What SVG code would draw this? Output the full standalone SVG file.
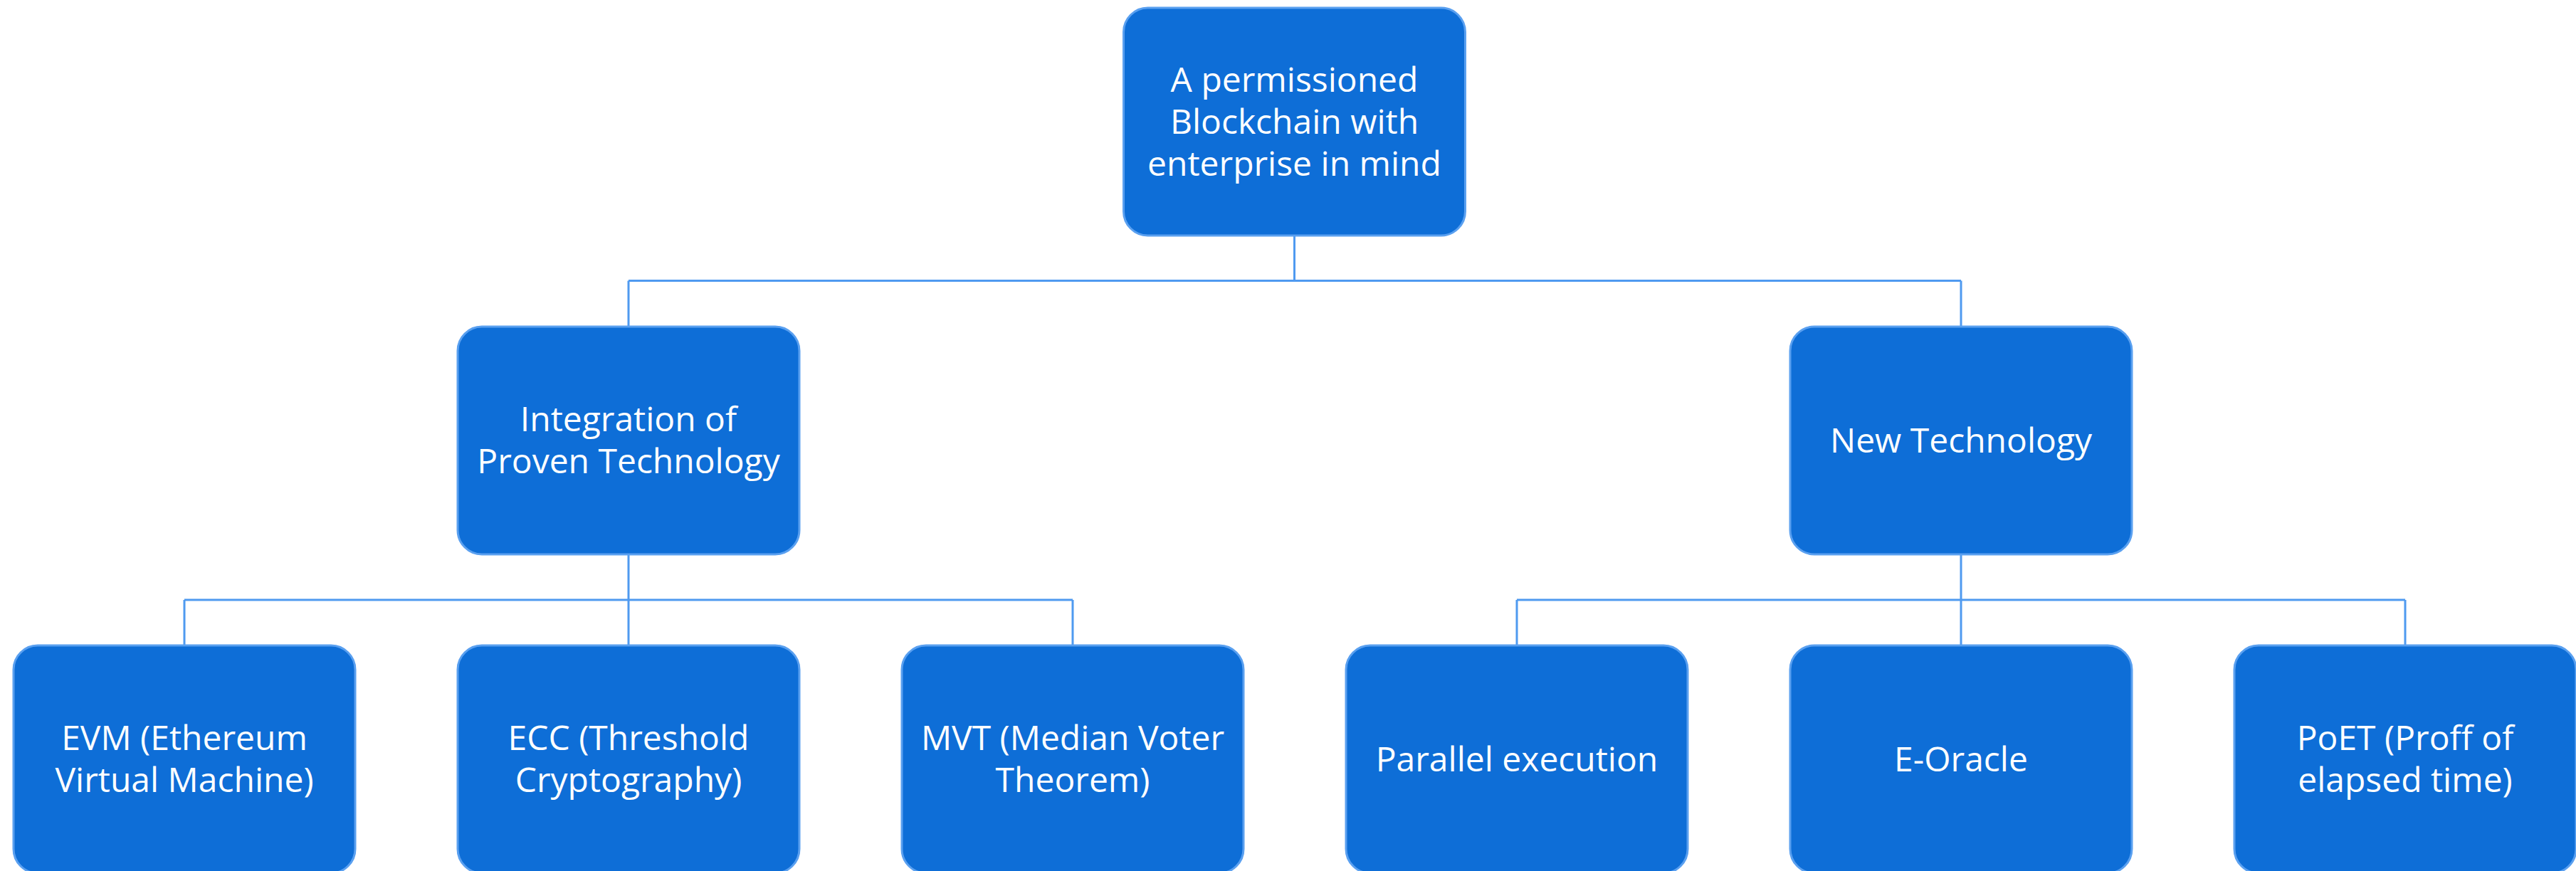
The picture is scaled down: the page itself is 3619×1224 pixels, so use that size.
<svg xmlns="http://www.w3.org/2000/svg" width="3619" height="1224" viewBox="0 0 3619 1224">
<style>
.box{fill:#0e6ed7;stroke:#5aa0f0;stroke-width:3}
.lbl{font-family:"Open Sans","Noto Sans","Liberation Sans",sans-serif;font-size:48px;fill:#ffffff;text-anchor:middle}
.conn{fill:none;stroke:#4f9af0;stroke-width:3}
</style>
<rect width="3619" height="1224" fill="#ffffff"/>
<g id="connectors">
<path class="conn" d="M1818.5 331 V394.5 M883 394.5 H2755 M883 394.5 V459 M2755 394.5 V459"/>
<path class="conn" d="M883 779 V843 M259 843 H1507 M259 843 V907 M883 843 V907 M1507 843 V907"/>
<path class="conn" d="M2755 779 V843 M2131 843 H3379 M2131 843 V907 M2755 843 V907 M3379 843 V907"/>
</g>
<g id="root">
<rect class="box" x="1578.5" y="11" width="480" height="320" rx="34"/>
<text class="lbl" x="1818.5" y="129">A permissioned</text>
<text class="lbl" x="1818.5" y="188">Blockchain with</text>
<text class="lbl" x="1818.5" y="247">enterprise in mind</text>
</g>
<g id="integration">
<rect class="box" x="643" y="459" width="480" height="320" rx="34"/>
<text class="lbl" x="883" y="606">Integration of</text>
<text class="lbl" x="883" y="665">Proven Technology</text>
</g>
<g id="newtech">
<rect class="box" x="2515" y="459" width="480" height="320" rx="34"/>
<text class="lbl" x="2755" y="636">New Technology</text>
</g>
<g id="evm">
<rect class="box" x="19" y="907" width="480" height="320" rx="34"/>
<text class="lbl" x="259" y="1054">EVM (Ethereum</text>
<text class="lbl" x="259" y="1113">Virtual Machine)</text>
</g>
<g id="ecc">
<rect class="box" x="643" y="907" width="480" height="320" rx="34"/>
<text class="lbl" x="883" y="1054">ECC (Threshold</text>
<text class="lbl" x="883" y="1113">Cryptography)</text>
</g>
<g id="mvt">
<rect class="box" x="1267" y="907" width="480" height="320" rx="34"/>
<text class="lbl" x="1507" y="1054">MVT (Median Voter</text>
<text class="lbl" x="1507" y="1113">Theorem)</text>
</g>
<g id="parallel">
<rect class="box" x="1891" y="907" width="480" height="320" rx="34"/>
<text class="lbl" x="2131" y="1084">Parallel execution</text>
</g>
<g id="eoracle">
<rect class="box" x="2515" y="907" width="480" height="320" rx="34"/>
<text class="lbl" x="2755" y="1084">E-Oracle</text>
</g>
<g id="poet">
<rect class="box" x="3139" y="907" width="480" height="320" rx="34"/>
<text class="lbl" x="3379" y="1054">PoET (Proff of</text>
<text class="lbl" x="3379" y="1113">elapsed time)</text>
</g>
</svg>
